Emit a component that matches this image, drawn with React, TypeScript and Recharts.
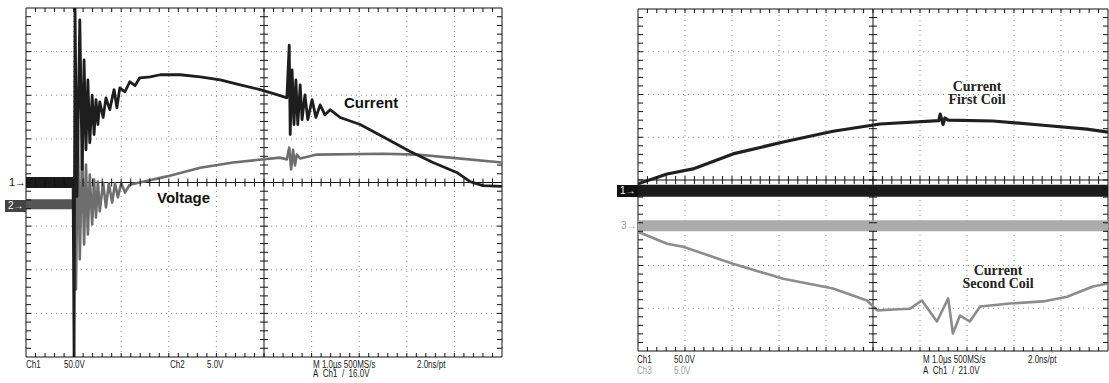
import React from "react";
import {
  ComposedChart,
  Line,
  Scatter,
  XAxis,
  YAxis,
  ReferenceLine,
} from "recharts";

// screen divisions: 10 across, 8 high (centre = 0)
const X_MAJOR = [1, 2, 3, 4, 6, 7, 8, 9];
const Y_MAJOR = [-3, -2, -1, 1, 2, 3];
const X_MINOR = Array.from({ length: 49 }, (_, i) => Math.round(i * 2 + 2) / 10);
const Y_MINOR = Array.from({ length: 39 }, (_, i) => Math.round(i * 2 - 38) / 10);

// left screen: Ch1 current, Ch2 voltage
const leftCurrentPre = [{ x: 0, y: 0 }, { x: 1.0, y: 0 }];
const leftCurrent = [
  { x: 0.99, y: 0 }, { x: 1.01, y: -4 }, { x: 1.03, y: 4 }, { x: 1.07, y: -0.32 },
  { x: 1.13, y: 3.73 }, { x: 1.18, y: 0.3 }, { x: 1.22, y: 2.81 }, { x: 1.26, y: 0.75 },
  { x: 1.3, y: 2.35 }, { x: 1.34, y: 0.91 }, { x: 1.39, y: 2.0 }, { x: 1.43, y: 1.1 },
  { x: 1.47, y: 1.9 }, { x: 1.51, y: 1.33 }, { x: 1.55, y: 1.85 }, { x: 1.62, y: 1.49 },
  { x: 1.68, y: 1.94 }, { x: 1.76, y: 1.67 }, { x: 1.85, y: 2.13 }, { x: 1.91, y: 1.71 },
  { x: 1.97, y: 2.17 }, { x: 2.08, y: 2.08 }, { x: 2.18, y: 2.31 }, { x: 2.29, y: 2.22 },
  { x: 2.39, y: 2.4 }, { x: 2.61, y: 2.42 }, { x: 2.82, y: 2.47 }, { x: 3.24, y: 2.47 },
  { x: 3.66, y: 2.42 }, { x: 4.08, y: 2.35 }, { x: 4.5, y: 2.24 }, { x: 4.92, y: 2.13 },
  { x: 5.34, y: 1.99 }, { x: 5.48, y: 1.94 }, { x: 5.53, y: 3.15 }, { x: 5.55, y: 1.1 },
  { x: 5.59, y: 2.58 }, { x: 5.63, y: 1.33 }, { x: 5.67, y: 2.35 }, { x: 5.71, y: 1.33 },
  { x: 5.76, y: 2.24 }, { x: 5.8, y: 1.44 }, { x: 5.86, y: 2.01 }, { x: 5.92, y: 1.44 },
  { x: 6.01, y: 1.9 }, { x: 6.09, y: 1.49 }, { x: 6.18, y: 1.78 }, { x: 6.28, y: 1.55 },
  { x: 6.39, y: 1.67 }, { x: 6.6, y: 1.49 }, { x: 7.02, y: 1.33 }, { x: 7.5, y: 1.05 },
  { x: 8.07, y: 0.71 }, { x: 8.55, y: 0.46 }, { x: 9.05, y: 0.23 }, { x: 9.33, y: 0.02 },
  { x: 9.6, y: -0.07 }, { x: 10, y: -0.09 },
];
const leftVoltagePre = [{ x: 0, y: -0.5 }, { x: 1.08, y: -0.5 }];
const leftVoltage = [
  { x: 1.02, y: -0.5 }, { x: 1.05, y: -2.45 }, { x: 1.09, y: 1.21 }, { x: 1.13, y: -1.76 },
  { x: 1.18, y: 0.75 }, { x: 1.22, y: -1.42 }, { x: 1.26, y: 0.41 }, { x: 1.3, y: -1.19 },
  { x: 1.34, y: 0.18 }, { x: 1.39, y: -0.96 }, { x: 1.43, y: 0.07 }, { x: 1.47, y: -0.8 },
  { x: 1.51, y: 0.02 }, { x: 1.55, y: -0.66 }, { x: 1.62, y: 0 }, { x: 1.68, y: -0.57 },
  { x: 1.74, y: -0.02 }, { x: 1.81, y: -0.46 }, { x: 1.87, y: -0.02 }, { x: 1.93, y: -0.34 },
  { x: 2.0, y: -0.02 }, { x: 2.08, y: -0.23 }, { x: 2.18, y: -0.05 }, { x: 2.39, y: 0 },
  { x: 2.96, y: 0.14 }, { x: 3.66, y: 0.34 }, { x: 4.35, y: 0.46 }, { x: 5.34, y: 0.57 },
  { x: 5.48, y: 0.53 }, { x: 5.53, y: 0.8 }, { x: 5.57, y: 0.3 }, { x: 5.61, y: 0.75 },
  { x: 5.65, y: 0.39 }, { x: 5.69, y: 0.64 }, { x: 5.76, y: 0.55 }, { x: 6.11, y: 0.64 },
  { x: 7.5, y: 0.66 }, { x: 8.21, y: 0.64 }, { x: 8.91, y: 0.57 }, { x: 10, y: 0.46 },
];

// right screen: first coil, second coil, reference traces
const ch1Band = [{ x: 0, y: -0.25 }, { x: 10, y: -0.25 }];
const ch3Band = [{ x: 0, y: -1.07 }, { x: 10, y: -1.07 }];
const firstCoil = [
  { x: 0, y: -0.09 }, { x: 0.62, y: 0.14 }, { x: 1.17, y: 0.26 }, { x: 2.02, y: 0.61 },
  { x: 3.09, y: 0.89 }, { x: 4.15, y: 1.14 }, { x: 5.15, y: 1.31 }, { x: 6.4, y: 1.39 },
  { x: 6.43, y: 1.54 }, { x: 6.49, y: 1.3 }, { x: 6.53, y: 1.45 }, { x: 6.6, y: 1.4 },
  { x: 7.55, y: 1.38 }, { x: 8.62, y: 1.28 }, { x: 9.55, y: 1.19 }, { x: 10, y: 1.12 },
];
const secondCoil = [
  { x: 0, y: -1.21 }, { x: 0.62, y: -1.49 }, { x: 0.96, y: -1.56 }, { x: 2.02, y: -1.96 },
  { x: 3.09, y: -2.31 }, { x: 4.15, y: -2.54 }, { x: 4.87, y: -2.82 }, { x: 5.09, y: -3.05 },
  { x: 5.43, y: -3.03 }, { x: 5.79, y: -3.01 }, { x: 6.04, y: -2.82 }, { x: 6.36, y: -3.31 },
  { x: 6.6, y: -2.77 }, { x: 6.7, y: -3.59 }, { x: 6.85, y: -3.17 }, { x: 7.06, y: -3.31 },
  { x: 7.28, y: -2.96 }, { x: 7.91, y: -2.89 }, { x: 8.62, y: -2.84 }, { x: 9.13, y: -2.73 },
  { x: 9.68, y: -2.49 }, { x: 10, y: -2.42 },
];

// graticule tick positions
const centreX = X_MINOR.map((x) => ({ x, y: 0 }));
const centreY = Y_MINOR.map((y) => ({ x: 5, y }));
const bottomEdge = X_MINOR.map((x) => ({ x, y: -4 }));
const topEdge = X_MINOR.map((x) => ({ x, y: 4 }));
const leftEdge = Y_MINOR.map((y) => ({ x: 0, y }));
const rightEdge = Y_MINOR.map((y) => ({ x: 10, y }));

const INK = "#111";
const tick = (x1: number, y1: number, x2: number, y2: number) => (
  <line x1={x1} y1={y1} x2={x2} y2={y2} stroke={INK} strokeWidth={1} />
);
const VTick = (p: any) => tick(p.cx, p.cy - 4, p.cx, p.cy + 4);
const HTick = (p: any) => tick(p.cx - 4, p.cy, p.cx + 4, p.cy);
const UpTick = (p: any) => tick(p.cx, p.cy - 4, p.cx, p.cy);
const DownTick = (p: any) => tick(p.cx, p.cy, p.cx, p.cy + 4);
const InRightTick = (p: any) => tick(p.cx, p.cy, p.cx + 5, p.cy);
const InLeftTick = (p: any) => tick(p.cx - 5, p.cy, p.cx, p.cy);

type Trace = { data: { x: number; y: number }[]; color: string; width: number; key: string };

function Screen({ width, height, margin, traces }: {
  width: number; height: number; margin: any; traces: Trace[];
}) {
  const marks: [any[], any][] = [
    [centreX, VTick], [centreY, HTick], [bottomEdge, UpTick],
    [topEdge, DownTick], [leftEdge, InRightTick], [rightEdge, InLeftTick],
  ];
  return (
    <ComposedChart width={width} height={height} margin={margin}>
      <XAxis type="number" dataKey="x" domain={[0, 10]} hide allowDataOverflow />
      <YAxis type="number" dataKey="y" domain={[-4, 4]} hide allowDataOverflow />
      {X_MAJOR.map((x) => (
        <ReferenceLine key={`gx${x}`} x={x} stroke="#8a8a8a" strokeDasharray="1 4" />
      ))}
      {Y_MAJOR.map((y) => (
        <ReferenceLine key={`gy${y}`} y={y} stroke="#8a8a8a" strokeDasharray="1 4" />
      ))}
      <ReferenceLine x={0} stroke={INK} />
      <ReferenceLine x={10} stroke={INK} />
      <ReferenceLine y={-4} stroke={INK} />
      <ReferenceLine y={4} stroke={INK} />
      <ReferenceLine x={5} stroke={INK} />
      <ReferenceLine y={0} stroke={INK} />
      {marks.map(([pts, shape], i) => (
        <Scatter key={`t${i}`} data={pts} dataKey="y" shape={shape} isAnimationActive={false} />
      ))}
      {traces.map((t) => (
        <Line key={t.key} data={t.data} dataKey="y" type="linear" dot={false}
          stroke={t.color} strokeWidth={t.width} strokeLinejoin="round"
          isAnimationActive={false} />
      ))}
    </ComposedChart>
  );
}

const footFont: React.CSSProperties = {
  position: "absolute",
  fontFamily: "'Liberation Sans', Arial, sans-serif",
  fontSize: 10,
  lineHeight: "8px",
  color: "#1a1a1a",
  whiteSpace: "nowrap",
  transform: "scaleX(0.8)",
  transformOrigin: "left top",
};
const markFont: React.CSSProperties = {
  position: "absolute",
  fontFamily: "'Liberation Sans', Arial, sans-serif",
  fontSize: 10,
  lineHeight: "10px",
  color: "#111",
  whiteSpace: "nowrap",
};
const sansLabel: React.CSSProperties = {
  position: "absolute",
  fontFamily: "'Liberation Sans', Arial, sans-serif",
  fontWeight: "bold",
  fontSize: 15,
  lineHeight: "15px",
  color: "#111",
};
const serifLabel: React.CSSProperties = {
  position: "absolute",
  fontFamily: "'Liberation Serif', 'Times New Roman', serif",
  fontWeight: "bold",
  fontSize: 14,
  lineHeight: "13px",
  color: "#222",
  textAlign: "center",
  width: 120,
};
const grey = "#a0a0a0";

export default function App() {
  return (
    <div style={{ position: "absolute", left: 0, top: 0, width: 1109, height: 383, background: "#fff", overflow: "hidden" }}>
      <div style={{ position: "absolute", left: 0, top: 0 }}>
        <Screen width={520} height={383} margin={{ top: 8, right: 18, bottom: 26, left: 26 }}
          traces={[
            { key: "vpre", data: leftVoltagePre, color: "#555", width: 10 },
            { key: "v", data: leftVoltage, color: "#6e6e6e", width: 2.6 },
            { key: "ipre", data: leftCurrentPre, color: "#1a1a1a", width: 11 },
            { key: "i", data: leftCurrent, color: "#1e1e1e", width: 2.8 },
          ]} />
      </div>
      <div style={{ position: "absolute", left: 620, top: 0 }}>
        <Screen width={489} height={383} margin={{ top: 9, right: 1, bottom: 32, left: 18 }}
          traces={[
            { key: "c3", data: ch3Band, color: "#ababab", width: 11 },
            { key: "c1", data: ch1Band, color: "#1c1c1c", width: 12 },
            { key: "sc", data: secondCoil, color: "#8c8c8c", width: 2.6 },
            { key: "fc", data: firstCoil, color: "#202020", width: 3.2 },
          ]} />
      </div>

      {/* channel markers */}
      <div style={{ ...markFont, left: 9, top: 177, fontSize: 11 }}>1→</div>
      <div style={{ ...markFont, left: 5, top: 200, width: 21, height: 12, background: "#444", color: "#fff", lineHeight: "12px", paddingLeft: 3, boxSizing: "border-box" }}>2→</div>
      <div style={{ ...markFont, left: 617, top: 185, width: 21, height: 12, background: "#111", color: "#fff", lineHeight: "12px", paddingLeft: 3, boxSizing: "border-box" }}>1→</div>
      <div style={{ ...markFont, left: 621, top: 221, color: "#999" }}>3→</div>
      <div style={{ ...markFont, left: 1097, top: 167 }}>←</div>

      {/* trace labels */}
      <div style={{ ...sansLabel, left: 344, top: 95 }}>Current</div>
      <div style={{ ...sansLabel, left: 157, top: 190 }}>Voltage</div>
      <div style={{ ...serifLabel, left: 917, top: 80 }}>Current<br />First Coil</div>
      <div style={{ ...serifLabel, left: 938, top: 264 }}>Current<br />Second Coil</div>

      {/* readouts, left */}
      <div style={{ ...footFont, left: 26, top: 361 }}>Ch1</div>
      <div style={{ ...footFont, left: 64, top: 361 }}>50.0V</div>
      <div style={{ ...footFont, left: 170, top: 361 }}>Ch2</div>
      <div style={{ ...footFont, left: 207, top: 361 }}>5.0V</div>
      <div style={{ ...footFont, left: 313, top: 361 }}>M 1.0µs 500MS/s</div>
      <div style={{ ...footFont, left: 313, top: 370 }}>A&nbsp; Ch1 &nbsp;/&nbsp; 16.0V</div>
      <div style={{ ...footFont, left: 417, top: 361 }}>2.0ns/pt</div>

      {/* readouts, right */}
      <div style={{ ...footFont, left: 637, top: 356 }}>Ch1</div>
      <div style={{ ...footFont, left: 674, top: 356 }}>50.0V</div>
      <div style={{ ...footFont, left: 637, top: 367, color: grey }}>Ch3</div>
      <div style={{ ...footFont, left: 674, top: 367, color: grey }}>5.0V</div>
      <div style={{ ...footFont, left: 923, top: 356 }}>M 1.0µs 500MS/s</div>
      <div style={{ ...footFont, left: 923, top: 367 }}>A&nbsp; Ch1 &nbsp;/&nbsp; 21.0V</div>
      <div style={{ ...footFont, left: 1028, top: 356 }}>2.0ns/pt</div>
    </div>
  );
}
